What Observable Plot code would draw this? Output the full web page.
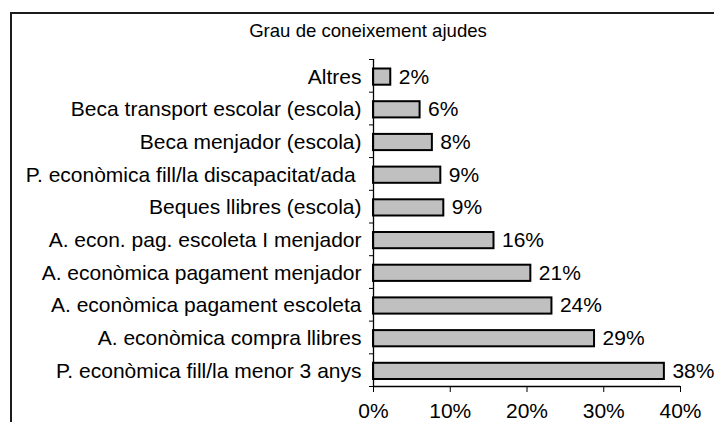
<!DOCTYPE html>
<html>
<head>
<meta charset="utf-8">
<script src="https://cdn.jsdelivr.net/npm/d3@7"></script>
<script src="https://cdn.jsdelivr.net/npm/@observablehq/plot@0.6"></script>
<style>
  html, body { margin: 0; padding: 0; background: #fff; }
  #wrap { position: relative; width: 714px; height: 422px; overflow: hidden; font-family: "Liberation Sans", Arial, sans-serif; }
  #frame { position: absolute; left: 10px; top: 12px; width: 720px; height: 430px; border-left: 2px solid #1c1c1c; border-top: 2px solid #1c1c1c; pointer-events: none; }
  #title { position: absolute; left: 11px; width: 714px; top: 22px; text-align: center; font-size: 18.6px; line-height: 1; color: #000; }
  #chart { position: absolute; left: 0; top: 0; }
</style>
</head>
<body>
<div id="wrap">
  <div id="chart"></div>
  <div id="frame"></div>
  <div id="title">Grau de coneixement ajudes</div>
</div>
<script>
const categories = [
  "Altres",
  "Beca transport escolar (escola)",
  "Beca menjador (escola)",
  "P. econòmica fill/la discapacitat/ada ",
  "Beques llibres (escola)",
  "A. econ. pag. escoleta I menjador",
  "A. econòmica pagament menjador",
  "A. econòmica pagament escoleta",
  "A. econòmica compra llibres",
  "P. econòmica fill/la menor 3 anys"
];
const values = [0.0225, 0.0607, 0.0767, 0.0877, 0.0916, 0.157, 0.205, 0.2325, 0.288, 0.379];
const valueLabels = ["2%", "6%", "8%", "9%", "9%", "16%", "21%", "24%", "29%", "38%"];
const xTicks = [0, 0.1, 0.2, 0.3, 0.4];

const rows = categories.map((c, i) => ({category: c, value: values[i], label: valueLabels[i], i0: i, i1: i + 1, mid: i + 0.5}));
const bounds = d3.range(0, categories.length + 1);

const chart = Plot.plot({
  width: 714,
  height: 422,
  marginLeft: 373,
  marginRight: 34,
  marginTop: 59,
  marginBottom: 36,
  style: {fontFamily: "'Liberation Sans', Arial, sans-serif", fontSize: "21px", color: "#000", background: "transparent"},
  x: {domain: [0, 0.4]},
  y: {domain: [0, categories.length], reverse: true},
  marks: [
    Plot.rectX(rows, {x1: () => 0, x2: "value", y1: "i0", y2: "i1", insetTop: 9.5, insetBottom: 7, fill: "#c0c0c0", stroke: "#000", strokeWidth: 2}),
    Plot.ruleX([0], {stroke: "#000", strokeWidth: 1.3}),
    Plot.ruleY([categories.length], {stroke: "#000", strokeWidth: 1.3}),
    Plot.axisY({ticks: bounds, tickFormat: () => "", tickSize: 4, stroke: "#000", label: null}),
    Plot.axisX({ticks: xTicks, tickFormat: d3.format(".0%"), tickSize: 6, tickPadding: 11, fontSize: 21, label: null}),
    Plot.text(rows, {x: () => 0, y: "mid", text: "category", textAnchor: "end", dx: -12, dy: 1, fontSize: 21, fill: "#000"}),
    Plot.text(rows, {x: "value", y: "mid", text: "label", textAnchor: "start", dx: 8, dy: 1, fontSize: 21, fill: "#000"})
  ]
});
document.getElementById("chart").appendChild(chart);
</script>
</body>
</html>
